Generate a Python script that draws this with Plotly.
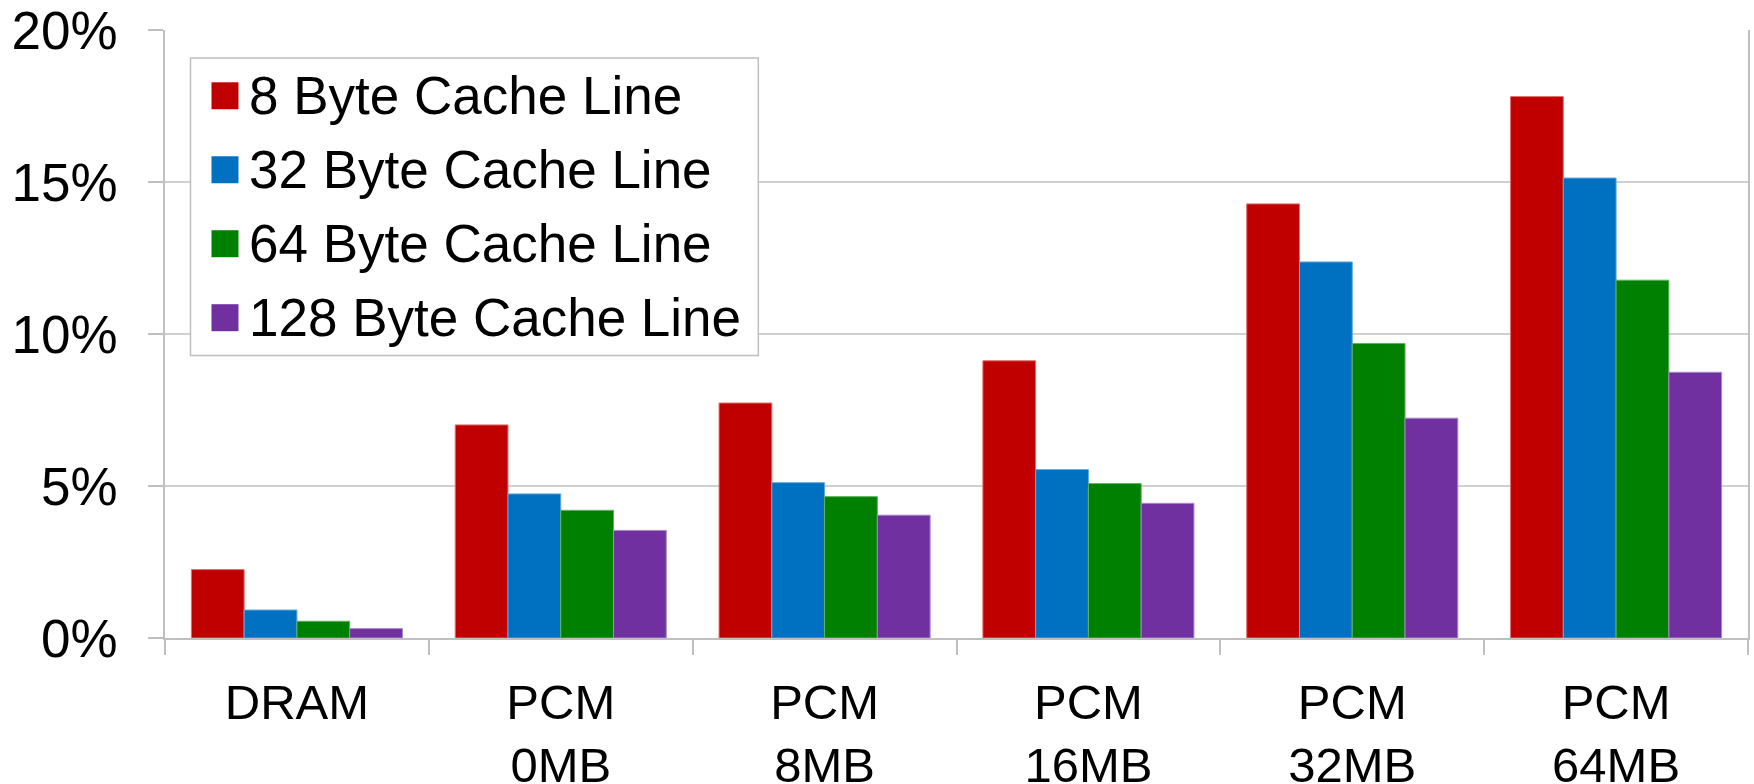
import plotly.graph_objects as go

# Categories and series (fraction of time, in percent)
categories = ["DRAM", "PCM<br>0MB", "PCM<br>8MB", "PCM<br>16MB", "PCM<br>32MB", "PCM<br>64MB"]
series_names = ["8 Byte Cache Line", "32 Byte Cache Line", "64 Byte Cache Line", "128 Byte Cache Line"]
line_8 = [2.25, 7.01, 7.73, 9.12, 14.28, 17.81]
line_32 = [0.92, 4.74, 5.11, 5.54, 12.37, 15.13]
line_64 = [0.55, 4.20, 4.65, 5.08, 9.69, 11.77]
line_128 = [0.31, 3.54, 4.04, 4.43, 7.23, 8.74]
y_ticks = [0, 5, 10, 15, 20]
y_tick_text = ["0%", "5%", "10%", "15%", "20%"]

colors = ["#C00000", "#0070C0", "#008000", "#7030A0"]
edge_colors = ["#E07070", "#60A8E0", "#60B060", "#A888C8"]
series_values = [line_8, line_32, line_64, line_128]

FONT = "Liberation Sans, Arial, sans-serif"
W, H = 1754, 784
M_L, M_R, M_T, M_B = 164.5, 6, 29.5, 146.3

fig = go.Figure()
for name, vals, c, ec in zip(series_names, series_values, colors, edge_colors):
    fig.add_trace(go.Bar(
        x=categories, y=vals, name=name,
        marker=dict(color=c, line=dict(color=ec, width=1)),
        showlegend=False,
    ))

# Legend drawn as a framed box with square swatches
plot_w = W - M_L - M_R
plot_h = H - M_T - M_B


def px(x):
    return (x - M_L) / plot_w


def py(y):
    return (H - M_B - y) / plot_h


shapes = [dict(type="rect", xref="paper", yref="paper",
               x0=px(190), x1=px(758), y0=py(355), y1=py(57.5),
               line=dict(color="#BFBFBF", width=1.5), fillcolor="white", layer="above")]
annotations = []
for i, (name, c) in enumerate(zip(series_names, colors)):
    cy = 95.3 + 74 * i
    shapes.append(dict(type="rect", xref="paper", yref="paper",
                       x0=px(211), x1=px(238), y0=py(cy + 13.5), y1=py(cy - 13.5),
                       line=dict(width=0), fillcolor=c, layer="above"))
    annotations.append(dict(xref="paper", yref="paper", x=px(247), y=py(cy),
                            text=name, showarrow=False, xanchor="left", yanchor="middle",
                            font=dict(family=FONT, size=53, color="black")))

fig.update_layout(
    width=W, height=H,
    margin=dict(l=M_L, r=M_R, t=M_T, b=M_B, pad=0),
    paper_bgcolor="white", plot_bgcolor="white",
    barmode="group", bargap=0.2, bargroupgap=0,
    font=dict(family=FONT, size=50, color="black"),
    shapes=shapes, annotations=annotations,
    xaxis=dict(
        type="category", tickson="boundaries", ticks="outside", ticklen=15,
        tickcolor="#BFBFBF", tickwidth=1.5,
        showline=True, linecolor="#BFBFBF", linewidth=1.5,
        showgrid=False, tickfont=dict(family=FONT, size=49),
        ticklabelstandoff=20, range=[-0.5, 5.5], automargin=False,
    ),
    yaxis=dict(
        range=[0, 20], tickvals=y_ticks, ticktext=y_tick_text,
        ticks="outside", ticklen=15, tickcolor="#BFBFBF", tickwidth=1.5,
        showline=True, linecolor="#BFBFBF", linewidth=1.5, mirror=True,
        showgrid=True, gridcolor="#D0D0D0", gridwidth=1.5,
        zeroline=False, tickfont=dict(family=FONT, size=53),
        ticklabelstandoff=20, automargin=False,
    ),
)

fig.write_html("out.html")
